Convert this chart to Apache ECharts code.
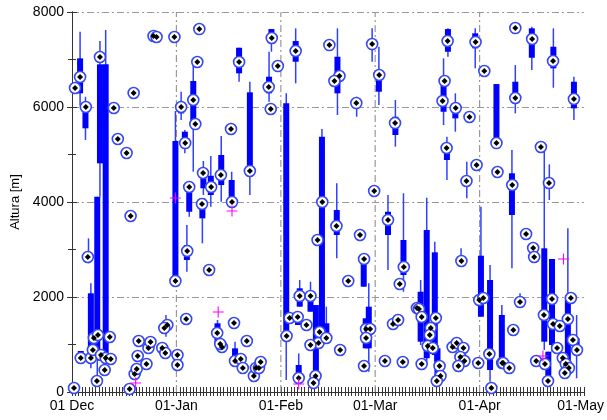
<!DOCTYPE html>
<html>
<head>
<meta charset="utf-8">
<script src="https://cdn.jsdelivr.net/npm/echarts@6/dist/echarts.min.js"></script>
<style>
  html, body { margin: 0; padding: 0; background: #fff; }
  #chart { width: 607px; height: 420px; }
</style>
</head>
<body>
<div id="chart"></div>
<script>
// Days are counted from 01 Dec; altitudes in metres.
const monthDays   = [0, 31, 62, 90, 121, 151];
const monthLabels = ['01 Dec', '01-Jan', '01-Feb', '01-Mar', '01-Apr', '01-May'];
const altTicks    = [0, 2000, 4000, 6000, 8000];

// Boxes: whisker range and thick box range for each sounding day
const boxDay      = [2.4, 4.0, 8.3, 10.0, 7.5, 5.6, 4.9, 2.6, 30.7, 32.4, 33.5, 34.8, 34.1, 36.0, 39.0, 41.2, 38.7, 44.3, 47.4, 49.6, 43.2, 48.4, 27.9,
                     52.8, 59.2, 58.5, 66.4, 63.6, 74.2, 67.6, 67.1, 70.8, 72.4, 67.3, 75.5,
                     78.8, 84.5, 89.1, 91.1, 96.0, 78.6, 93.8, 98.4, 86.6, 88.1, 87.2,
                     111.6, 119.7, 110.3, 113.8, 111.3, 126.0, 117.2, 115.5, 105.3, 103.5, 107.7, 108.5, 121.4, 124.1, 127.6,
                     136.5, 142.9, 131.6, 149.0, 140.2, 141.7, 130.6, 142.5, 147.2, 141.4, 133.0, 149.8];
const whiskerLow  = [6041, 5305, 4111, 610, 217, 499, 2708, 709, 2322, 5726, 5025, 3690, 2533, 4637, 4147, 3901, 3130, 4006, 3936, 6532, 1025, 604, 1164,
                     4147, 7164, 6111, 6498, 253, 1130, 1796, 1410, 1690, 147, 288, 1130,
                     5831, 5795, 6953, 6041, 5164, 2814, 2568, 2111, 2217, 427, 920,
                     7058, 6814, 5620, 5480, 4463, 5235, 4077, 2638, 638, 989, 638, 217, 1585, 217, 604,
                     6778, 6406, 5866, 5726, 884, 4042, 2603, 848, 358, 217, 1901, 288];
const boxLow      = [6288, 5551, 4814, 779, 848, 779, 2743, 709, 2358, 5866, 5130, 3795, 2779, 5690, 4288, 4147, 3656, 4357, 3936, 6709, 1025, 604, 1347,
                     4658, 7340, 6288, 6953, 1200, 1130, 1796, 1410, 1690, 217, 288, 1130,
                     6288, 6006, 7235, 6322, 5410, 3305, 3305, 2463, 2217, 920, 920,
                     7164, 7235, 5900, 5761, 4884, 5235, 4442, 2758, 709, 1059, 779, 217, 1585, 463, 604,
                     7037, 6814, 6147, 5972, 1059, 4288, 3726, 989, 358, 217, 1901, 848];
const boxHigh     = [7024, 6006, 6898, 6898, 4111, 2078, 2920, 863, 5284, 6077, 5480, 4357, 3094, 6547, 4709, 4553, 4077, 4989, 4463, 7248, 1446, 919, 1410,
                     6309, 7641, 6637, 7389, 6077, 5374, 2183, 1657, 2111, 1831, 568, 1446,
                     7058, 6077, 7374, 6742, 5795, 3831, 3795, 3200, 2709, 1796, 1551,
                     7641, 7551, 6462, 6041, 5199, 6483, 4442, 2758, 3410, 2111, 2941, 920, 2869, 2358, 1621,
                     7656, 7269, 6532, 6532, 3025, 4498, 4604, 2800, 1972, 848, 1901, 1130];
const whiskerHigh = [7584, 6216, 7389, 7620, 4111, 2288, 3235, 863, 5915, 6322, 5515, 4357, 3515, 6953, 4863, 4968, 4077, 5389, 4637, 7248, 1516, 1059, 1621,
                     6532, 7641, 7164, 7656, 6288, 5536, 2358, 1657, 2322, 1831, 814, 1796,
                     7656, 6216, 7656, 7269, 6147, 4393, 4147, 4183, 2800, 2288, 1551,
                     7656, 7656, 7024, 6288, 5374, 6483, 4848, 3025, 4090, 2358, 3164, 920, 3901, 2673, 1831,
                     7690, 7656, 6883, 6637, 5164, 4793, 5094, 2800, 3446, 848, 2078, 1621];

// Circled markers
const markerDay = [0.6, 0.9, 2.4, 4.1, 8.3, 4.7, 2.6, 5.6, 6.5, 7.7, 6.2, 7.4, 8.6, 9.7, 10.0, 11.5, 11.2, 12.4, 13.6, 16.2, 18.3, 17.4, 24.2,
                   17.1, 18.6, 19.2, 19.5, 19.8, 22.1, 22.7, 23.3, 25.1, 30.4,
                   37.8, 30.7, 32.4, 33.6, 34.8, 34.2, 36.0, 36.6, 37.2, 38.9, 41.3, 38.6, 44.2, 40.7, 47.5, 47.2, 49.6, 48.1,
                   28.3, 27.4, 26.8, 27.7, 31.3, 31.3, 33.9, 43.1, 44.5, 44.0, 48.4, 50.1,
                   52.8, 59.3, 58.4, 59.0, 61.1, 66.4, 63.7, 74.3, 72.9, 64.6, 67.0, 67.6, 70.8, 72.3, 71.7, 73.2, 70.8, 73.5, 69.6, 67.3, 75.5, 76.4,
                   51.9, 50.7, 54.0, 54.6, 55.5, 56.0,
                   79.4, 77.9, 84.4, 89.1, 91.2, 95.9, 89.7, 78.5, 85.5, 93.8, 98.5, 86.7, 97.3, 82.0, 87.3, 88.5, 87.3, 86.7, 79.6, 95.3, 96.8, 92.9, 98.2, 102.4,
                   111.5, 119.8, 122.4, 110.6, 110.0, 113.9, 118.0, 111.2, 126.0, 126.3, 120.1, 117.1, 115.6,
                   103.0, 103.8, 108.0, 106.5, 106.2, 105.6, 107.1, 103.8, 109.1, 109.4, 108.3,
                   113.0, 114.2, 116.2, 115.3, 116.5, 114.7, 120.9, 122.1, 123.9, 124.5, 120.6, 127.7,
                   131.6, 136.6, 142.8, 131.6, 149.0, 139.2, 141.6, 130.7, 134.8, 136.9, 137.2, 133.0, 131.0,
                   140.1, 142.5, 148.1, 147.2, 142.8, 144.8, 144.0, 148.7, 149.9,
                   128.0, 129.8, 137.8, 140.4, 141.3, 145.7, 146.6, 147.5, 146.3];
const markerAlt = [84, 6400, 6631, 5999, 7052, 2842, 716, 716, 1137, 1200, 884, 232, 779, 463, 716, 695, 1158, 5978, 5326, 5031, 6294, 3705, 7494,
                   63, 379, 484, 758, 1074, 589, 926, 1053, 7473, 7473,
                   7641, 2337, 5999, 5241, 4315, 2968, 6147, 5641, 6947, 4610, 4315, 3957, 4568, 2568, 4000, 5536, 6947, 1452,
                   1410, 1347, 926, 821, 779, 568, 1537, 1242, 947, 1010, 653, 695,
                   4652, 7452, 6420, 5957, 6862, 7178, 1179, 4000, 3200, 1558, 1579, 2021, 2021, 337, 189, 1031, 989, 1263, 1410, 295, 1137, 7304,
                   1074, 505, 337, 505, 505, 632,
                   6652, 6547, 6083, 7325, 6673, 5662, 4231, 3494, 3305, 3621, 2631, 2800, 2273, 2337, 1326, 1326, 1137, 547, 884, 1431, 1516, 653, 632, 1768,
                   7389, 7368, 6757, 6547, 6126, 5978, 5789, 5136, 5241, 4631, 4778, 4442, 2758,
                   1747, 1579, 1558, 1347, 1200, 968, 926, 589, 547, 337, 232,
                   947, 1031, 926, 737, 653, 547, 1937, 1979, 800, 84, 610, 610,
                   7662, 7431, 6968, 6189, 6168, 5157, 4399, 4357, 3326, 3031, 2842, 1895, 1305,
                   1621, 1958, 1979, 1537, 1431, 1389, 926, 1095, 884,
                   610, 505, 653, 589, 232, 716, 589, 505, 400];

// Crosses
const outlierDay = [18.9, 30.7, 43.4, 47.5, 67.3, 145.9, 139.8];
const outlierAlt = [189, 4084, 1684, 3810, 168, 2800, 758];

const boxData = boxDay.map((d, i) => [d, whiskerLow[i], boxLow[i], boxHigh[i], whiskerHigh[i]]);
const markerData = markerDay.map((d, i) => [d, markerAlt[i]]);
const outlierData = outlierDay.map((d, i) => [d, outlierAlt[i]]);
const gridData = monthDays.slice(1, 5).map(d => [d]);

const labelFont = { fontFamily: 'Liberation Sans, Arial, sans-serif', fontSize: 14, color: '#000' };
const frameLine = { show: true, lineStyle: { color: '#333', width: 1 } };
const dashDot = [7, 3, 2, 3];

const chart = echarts.init(document.getElementById('chart'), null, { renderer: 'canvas' });

chart.setOption({
  animation: false,
  backgroundColor: '#fff',
  grid: { left: 72, right: 20, top: 12, bottom: 28, containLabel: false },
  xAxis: [
    {
      type: 'value', min: 0, max: 152, interval: 1, position: 'bottom',
      axisLine: frameLine,
      axisTick: { show: true, inside: true, length: 5, lineStyle: { color: '#333' } },
      axisLabel: {
        ...labelFont, margin: 7, showMinLabel: true, showMaxLabel: true,
        formatter: v => { const k = monthDays.indexOf(v); return k >= 0 ? monthLabels[k] : ''; }
      },
      splitLine: { show: false }
    },
    {
      type: 'value', min: 0, max: 152, interval: 1, position: 'top',
      axisLine: frameLine,
      axisTick: { show: true, inside: true, length: 4, lineStyle: { color: '#333' } },
      axisLabel: { show: false },
      splitLine: { show: false }
    }
  ],
  yAxis: [
    {
      type: 'value', min: 0, max: 8000, interval: 2000, position: 'left',
      name: 'Altura [m]', nameLocation: 'middle', nameGap: 50, nameRotate: 90,
      nameTextStyle: { fontFamily: 'Liberation Sans, Arial, sans-serif', fontSize: 13, color: '#000' },
      axisLine: frameLine,
      axisTick: { show: true, inside: true, length: 5, lineStyle: { color: '#333' } },
      minorTick: { show: true, splitNumber: 2, length: 4, lineStyle: { color: '#333' } },
      axisLabel: { ...labelFont, margin: 8, formatter: v => altTicks.includes(v) ? String(v) : '' },
      splitLine: { show: true, lineStyle: { color: '#999', width: 1.2, type: dashDot } }
    },
    {
      type: 'value', min: 0, max: 8000, interval: 2000, position: 'right',
      axisLine: frameLine,
      axisTick: { show: true, inside: true, length: 5, lineStyle: { color: '#333' } },
      minorTick: { show: true, splitNumber: 2, length: 4, lineStyle: { color: '#333' } },
      axisLabel: { show: false },
      splitLine: { show: false }
    }
  ],
  series: [
    {
      // vertical month grid lines
      type: 'custom', z: 1, silent: true,
      data: gridData,
      encode: { x: 0 },
      renderItem: (params, api) => {
        const d = api.value(0);
        const a = api.coord([d, 0]);
        const b = api.coord([d, 8000]);
        return {
          type: 'line',
          shape: { x1: a[0], y1: a[1], x2: b[0], y2: b[1] },
          style: { stroke: '#999', lineWidth: 1.2, lineDash: dashDot }
        };
      }
    },
    {
      // whiskers and boxes
      type: 'custom', z: 2, silent: true,
      data: boxData,
      encode: { x: 0, y: [1, 2, 3, 4] },
      renderItem: (params, api) => {
        const d = api.value(0);
        const lo = api.coord([d, api.value(1)]);
        const q1 = api.coord([d, api.value(2)]);
        const q3 = api.coord([d, api.value(3)]);
        const hi = api.coord([d, api.value(4)]);
        const w = 6;
        return {
          type: 'group',
          children: [
            { type: 'line', shape: { x1: lo[0], y1: lo[1], x2: hi[0], y2: hi[1] },
              style: { stroke: '#3040ff', lineWidth: 1.5 } },
            { type: 'rect', shape: { x: q3[0] - w / 2, y: q3[1], width: w, height: Math.max(q1[1] - q3[1], 0) },
              style: { fill: '#0000ff' } }
          ]
        };
      }
    },
    {
      type: 'scatter', z: 3, silent: true, clip: false,
      data: markerData,
      symbol: 'circle', symbolSize: 11,
      itemStyle: { color: '#fff', borderColor: '#3848f0', borderWidth: 1.6, opacity: 1 }
    },
    {
      type: 'scatter', z: 4, silent: true, clip: false,
      data: markerData,
      symbol: 'diamond', symbolSize: 6,
      itemStyle: { color: '#000', opacity: 1 }
    },
    {
      type: 'scatter', z: 5, silent: true, clip: false,
      data: outlierData,
      symbol: 'path://M4.5,0h1v4.5h4.5v1h-4.5v4.5h-1v-4.5h-4.5v-1h4.5z', symbolSize: 11,
      itemStyle: { color: '#ff00ff', opacity: 1 }
    }
  ]
});
</script>
</body>
</html>
